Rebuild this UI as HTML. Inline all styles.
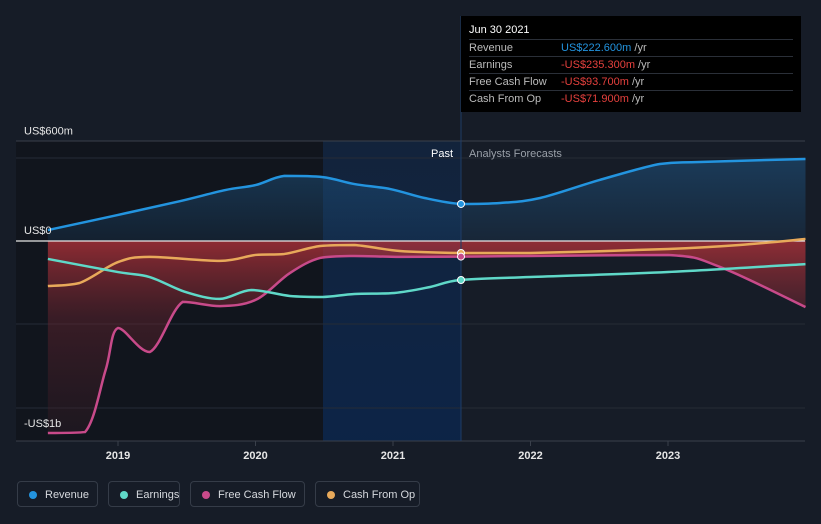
<!DOCTYPE html>
<html><head><meta charset="utf-8"><style>
body{margin:0;background:#161c27;font-family:"Liberation Sans",sans-serif;}
#wrap{position:relative;width:821px;height:524px;overflow:hidden;background:#161c27}
.leg{position:absolute;top:481px;height:26px;border:1px solid #353c48;border-radius:4px;color:#d6d9de;font-size:11px;line-height:26px;box-sizing:border-box;padding-left:27px;white-space:nowrap}
.leg i{position:absolute;left:11px;top:9px;width:8px;height:8px;border-radius:50%}
#tip{position:absolute;left:461px;top:16px;width:340px;height:96px;background:#000;color:#fff;font-size:11px}
.row{position:absolute;left:8px;width:324px;height:17px;border-top:1px solid #2a2f38;line-height:17px;color:#bbb}
.row span{position:absolute;left:92px}
</style></head><body>
<div id="wrap">
<svg id="svg" width="821" height="524" style="position:absolute;left:0;top:0"></svg>
<div id="tip">
<div style="position:absolute;left:8px;top:8px;font-size:11px">Jun 30 2021</div>
<div class="row" style="top:23px">Revenue<span style="color:#2394df">US$222.600m <b style="color:#bbb;font-weight:normal">/yr</b></span></div>
<div class="row" style="top:40px">Earnings<span style="color:#e5403d">-US$235.300m <b style="color:#bbb;font-weight:normal">/yr</b></span></div>
<div class="row" style="top:57px">Free Cash Flow<span style="color:#e5403d">-US$93.700m <b style="color:#bbb;font-weight:normal">/yr</b></span></div>
<div class="row" style="top:74px">Cash From Op<span style="color:#e5403d">-US$71.900m <b style="color:#bbb;font-weight:normal">/yr</b></span></div>
</div>
<div class="leg" style="left:17px;width:81px"><i style="background:#2394df"></i>Revenue</div>
<div class="leg" style="left:108px;width:72px"><i style="background:#5fd8c8"></i>Earnings</div>
<div class="leg" style="left:190px;width:115px"><i style="background:#c84a8a"></i>Free Cash Flow</div>
<div class="leg" style="left:315px;width:105px"><i style="background:#e8a95a"></i>Cash From Op</div>
</div>
<script>
const revT=[2018.49,2019,2019.45,2019.78,2020,2020.21,2020.49,2020.72,2020.98,2021.23,2021.49,2021.78,2022.07,2022.5,2022.94,2023.23,2024];
const revV=[66,157,240,307,337,392,385,343,313,259,223,229,259,367,464,476,494];
const earT=[2018.49,2019,2019.23,2019.49,2019.74,2019.97,2020.25,2020.49,2020.72,2021.01,2021.27,2021.49,2022,2023,2024];
const earV=[-108,-187,-217,-307,-349,-295,-331,-337,-319,-313,-277,-235,-217,-187,-139];
const fcfT=[2018.49,2018.76,2018.91,2019,2019.23,2019.47,2019.74,2020,2020.25,2020.47,2020.72,2021.05,2021.49,2022,2023,2023.38,2024];
const fcfV=[-1157,-1151,-777,-524,-669,-367,-392,-355,-193,-102,-90,-96,-94,-90,-84,-157,-398];
const cfoT=[2018.49,2018.72,2019,2019.23,2019.74,2020,2020.21,2020.47,2020.72,2021.05,2021.49,2022,2023,2023.52,2024];
const cfoV=[-271,-253,-127,-96,-120,-84,-78,-30,-24,-60,-72,-72,-48,-24,12];
const yTicks=[600,0,-1000];
const yTickLabels=["US$600m","US$0","-US$1b"];
const years=[2019,2020,2021,2022,2023];
const X=t=>118+(t-2019)*137.5;
const Y=v=>241-v*0.166;
const svg=document.getElementById('svg');
const NS='http://www.w3.org/2000/svg';
function el(tag,attrs,parent){const e=document.createElementNS(NS,tag);for(const k in attrs)e.setAttribute(k,attrs[k]);(parent||svg).appendChild(e);return e;}
function path(T,V){const p=T.map((t,i)=>[X(t),Y(V[i])]);let d='M'+p[0][0]+','+p[0][1];
for(let i=0;i<p.length-1;i++){const p0=p[i-1]||p[i],p1=p[i],p2=p[i+1],p3=p[i+2]||p2;
let c1=[p1[0]+(p2[0]-p0[0])/6,p1[1]+(p2[1]-p0[1])/6],c2=[p2[0]-(p3[0]-p1[0])/6,p2[1]-(p3[1]-p1[1])/6];
const lo=Math.min(p1[1],p2[1]),hi=Math.max(p1[1],p2[1]);
c1[1]=Math.max(lo,Math.min(hi,c1[1]));c2[1]=Math.max(lo,Math.min(hi,c2[1]));
d+=`C${c1[0]},${c1[1]} ${c2[0]},${c2[1]} ${p2[0]},${p2[1]}`;}return d;}
const defs=el('defs',{});
defs.innerHTML='<linearGradient id="gb" x1="0" y1="0" x2="0" y2="1"><stop offset="0" stop-color="#1d4f7a" stop-opacity=".6"/><stop offset="1" stop-color="#1d4f7a" stop-opacity=".2"/></linearGradient><linearGradient id="gr" x1="0" y1="0" x2="0" y2="1"><stop offset="0" stop-color="#b8333a" stop-opacity=".75"/><stop offset="0.4" stop-color="#6a2530" stop-opacity=".45"/><stop offset="1" stop-color="#3a1c26" stop-opacity=".3"/></linearGradient><linearGradient id="gp" x1="0" y1="0" x2="0" y2="1"><stop offset="0" stop-color="#0f2a4f" stop-opacity=".5"/><stop offset="1" stop-color="#0c2448" stop-opacity=".95"/></linearGradient>';
let r=el('rect',{x:16,y:141,width:307,height:300,fill:'#11151d'});

r=el('rect',{x:323,y:141,width:138,height:300,fill:'url(#gp)'});

[158,324,408].forEach(y=>{const g=el('line',{x1:16,x2:805,y1:y,y2:y,stroke:'#252b36','stroke-width':1});
});
let ln=el('line',{x1:16,x2:805,y1:141,y2:141,stroke:'#3a404b'});

ln=el('line',{x1:16,x2:805,y1:441,y2:441,stroke:'#3a404b'});

const rp=path(revT,revV);
let f=el('path',{d:rp+`L${X(2024)},${Y(0)}L${X(2018.49)},${Y(0)}Z`,fill:'url(#gb)'});

const fp=path(fcfT,fcfV);
f=el('path',{d:fp+`L${X(2024)},${Y(0)}L${X(2018.49)},${Y(0)}Z`,fill:'url(#gr)'});

ln=el('line',{x1:16,x2:805,y1:Y(0),y2:Y(0),stroke:'#e6e6e6','stroke-width':1.2});

ln=el('line',{x1:461,x2:461,y1:16,y2:441,stroke:'#1f3c66','stroke-width':1});

const series=[[cfoT,cfoV,'#e8a95a','cfo-line'],[fcfT,fcfV,'#c84a8a','fcf-line'],[earT,earV,'#5fd8c8','earnings-line'],[revT,revV,'#2394df','revenue-line']];
series.forEach(s=>{const p=el('path',{d:path(s[0],s[1]),fill:'none',stroke:s[2],'stroke-width':2.5});
});
function interp(T,V,t){for(let i=0;i<T.length-1;i++)if(t>=T[i]&&t<=T[i+1])return V[i]+(V[i+1]-V[i])*(t-T[i])/(T[i+1]-T[i]);return V[V.length-1];}
series.forEach(s=>{const c=el('circle',{cx:461,cy:Y(interp(s[0],s[1],2021.49)),r:3.5,fill:s[2],stroke:'#fff','stroke-width':1});
});
yTicks.forEach((v,i)=>{const t=el('text',{x:24,y:Y(v)-7+(v===-1000?27:0),fill:'#e6e6e6','font-size':11,'font-family':'Liberation Sans'});t.textContent=yTickLabels[i];
});
years.forEach(y=>{const x=X(y);const tk=el('line',{x1:x,x2:x,y1:441,y2:446,stroke:'#3a404b'});

const t=el('text',{x:x,y:459,fill:'#e6e6e6','font-size':11,'text-anchor':'middle','font-weight':'bold','font-family':'Liberation Sans'});t.textContent=y;
});
let t=el('text',{x:453,y:157,fill:'#fff','font-size':11,'text-anchor':'end'});t.textContent='Past';

t=el('text',{x:469,y:157,fill:'#9aa0a8','font-size':11});t.textContent='Analysts Forecasts';

</script>
</body></html>
